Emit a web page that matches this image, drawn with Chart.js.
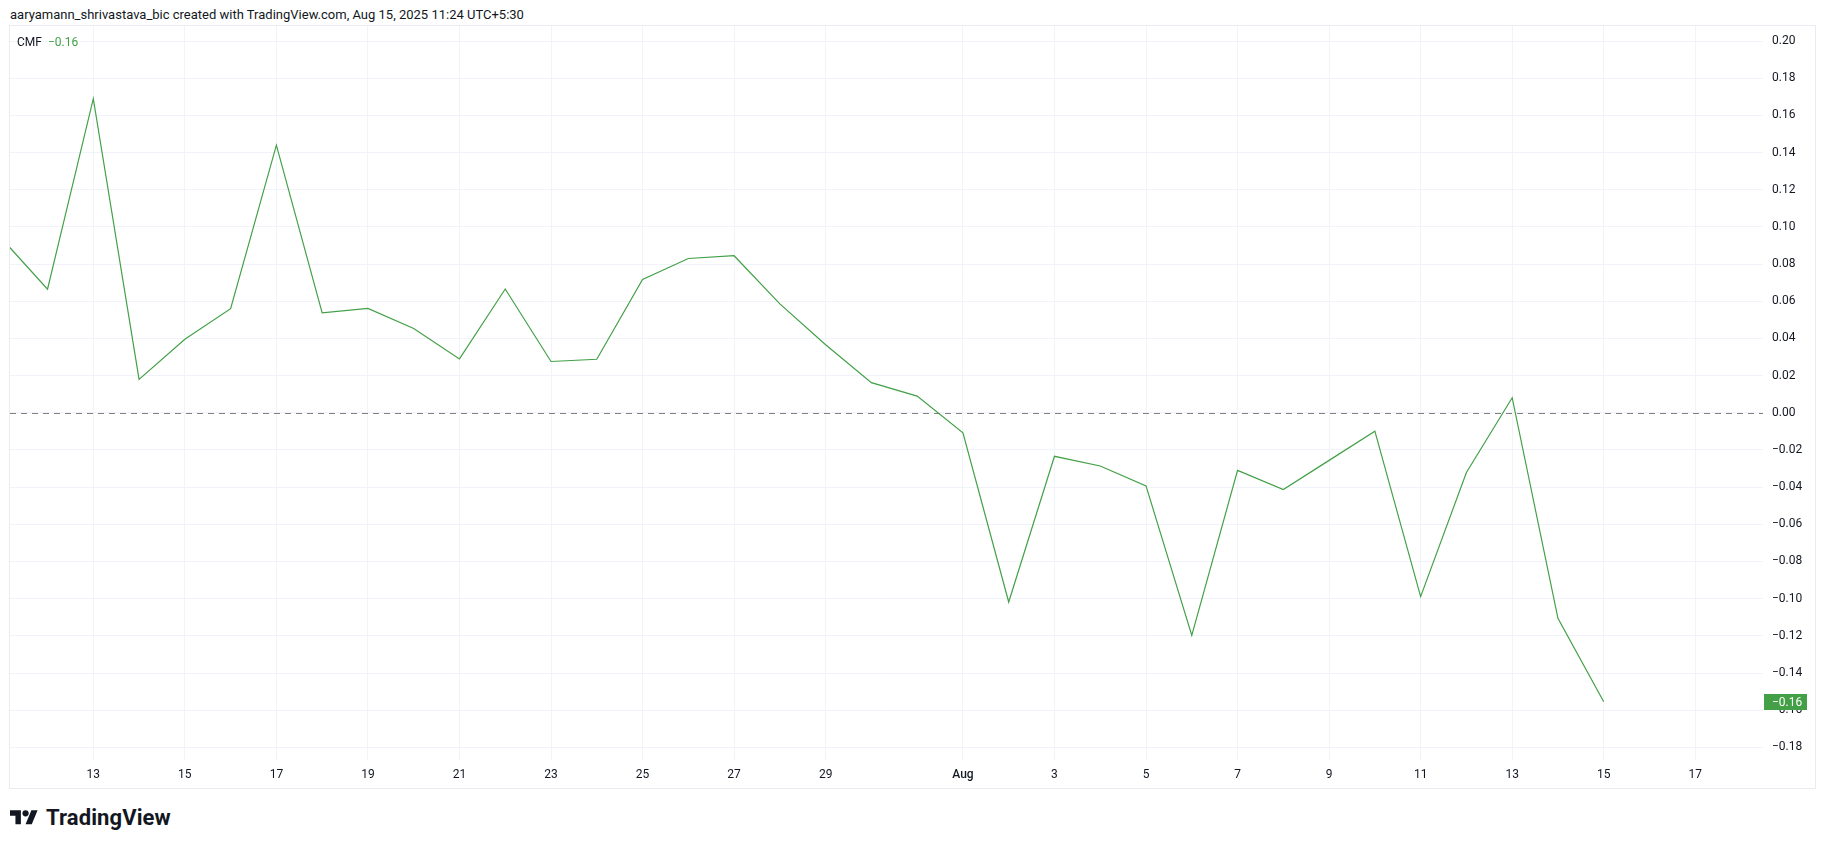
<!DOCTYPE html>
<html lang="en">
<head>
<meta charset="UTF-8">
<title>CMF</title>
<script src="https://cdn.jsdelivr.net/npm/chart.js"></script>
<style>
  body {
    margin: 0;
    width: 1825px;
    height: 849px;
    background: #fff;
    font-family: Roboto, sans-serif;
    color: #131722;
    position: relative;
    overflow: hidden;
  }
  .header {
    position: absolute;
    left: 10px;
    top: 6px;
    font-size: 13px;
    line-height: 18px;
    white-space: nowrap;
  }
  .pane {
    position: absolute;
    left: 9px;
    top: 25px;
    width: 1807px;
    height: 764px;
    border: 1px solid #e9ebf0;
    box-sizing: border-box;
  }
  #chart {
    position: absolute;
    left: 10px;
    top: 26px;
  }
  .legend {
    position: absolute;
    left: 17px;
    top: 33px;
    font-size: 12px;
    line-height: 18px;
  }
  .legend .val {
    color: #43a047;
    margin-left: 6px;
  }
  .logo {
    position: absolute;
    left: 10px;
    top: 805px;
    display: flex;
    align-items: center;
    color: #131722;
  }
  .logo span {
    font-weight: 700;
    font-size: 22px;
    margin-left: 8px;
    letter-spacing: 0.1px;
  }
</style>
</head>
<body>
  <div class="header">aaryamann_shrivastava_bic created with TradingView.com, Aug 15, 2025 11:24 UTC+5:30</div>
  <div class="pane"></div>
  <canvas id="chart" width="1805" height="762"></canvas>
  <div class="legend">CMF<span class="val" id="lastVal"></span></div>
  <div class="logo">
    <svg width="28" height="22" viewBox="0 0 36 28" fill="#131722">
      <path d="M14 22H7V11H0V4h14v18zM28 22h-8l7.5-18h8L28 22z"/>
      <circle cx="20" cy="8" r="4"/>
    </svg>
    <span>TradingView</span>
  </div>

<script>
// daily CMF values
const dates = [
  '2025-07-11', '2025-07-12', '2025-07-13', '2025-07-14', '2025-07-15', '2025-07-16',
  '2025-07-17', '2025-07-18', '2025-07-19', '2025-07-20', '2025-07-21', '2025-07-22',
  '2025-07-23', '2025-07-24', '2025-07-25', '2025-07-26', '2025-07-27', '2025-07-28',
  '2025-07-29', '2025-07-30', '2025-07-31', '2025-08-01', '2025-08-02', '2025-08-03',
  '2025-08-04', '2025-08-05', '2025-08-06', '2025-08-07', '2025-08-08', '2025-08-09',
  '2025-08-10', '2025-08-11', '2025-08-12', '2025-08-13', '2025-08-14', '2025-08-15'
];
const cmf = [
  0.0937, 0.0665, 0.1690, 0.0180, 0.0396, 0.0560,
  0.1440, 0.0538, 0.0562, 0.0454, 0.0290, 0.0666,
  0.0276, 0.0288, 0.0717, 0.0830, 0.0845, 0.0586,
  0.0366, 0.0162, 0.0090, -0.0108, -0.1018, -0.0234,
  -0.0286, -0.0393, -0.1198, -0.0310, -0.0413, -0.0256,
  -0.0099, -0.0989, -0.0321, 0.0081, -0.1106, -0.1555
];
const tickDates = [
  '2025-07-13', '2025-07-15', '2025-07-17', '2025-07-19', '2025-07-21', '2025-07-23',
  '2025-07-25', '2025-07-27', '2025-07-29', '2025-08-01', '2025-08-03', '2025-08-05',
  '2025-08-07', '2025-08-09', '2025-08-11', '2025-08-13', '2025-08-15', '2025-08-17'
];
const monthNames = ['Jan', 'Feb', 'Mar', 'Apr', 'May', 'Jun', 'Jul', 'Aug', 'Sep', 'Oct', 'Nov', 'Dec'];
const zeroLevel = 0;
// visible window (days since Jun 30) and value range
const xView = [11.18, 49.48];
const yView = [-0.1868, 0.2081];

const green = '#43a047';
const textColor = '#131722';
const gridColor = '#f0f3fa';

const origin = Date.UTC(2025, 5, 30);
function dayNum(d) {
  return (Date.parse(d) - origin) / 864e5;
}
function fmt(v) {
  const s = Math.abs(v).toFixed(2);
  return v < -0.0001 ? '\u2212' + s : s;
}

const points = dates.map((d, i) => ({ x: dayNum(d), y: cmf[i] }));
const lastValue = cmf[cmf.length - 1];
document.getElementById('lastVal').textContent = fmt(lastValue);

const overlay = {
  id: 'overlay',
  beforeDatasetsDraw(chart) {
    const ctx = chart.ctx;
    const area = chart.chartArea;
    const y = Math.round(chart.scales.y.getPixelForValue(zeroLevel)) + 0.5;
    ctx.save();
    ctx.strokeStyle = '#808080';
    ctx.lineWidth = 1;
    ctx.setLineDash([6, 5]);
    ctx.beginPath();
    ctx.moveTo(area.left, y);
    ctx.lineTo(area.right, y);
    ctx.stroke();
    ctx.restore();
  },
  afterDraw(chart) {
    const ctx = chart.ctx;
    const area = chart.chartArea;
    const y = chart.scales.y.getPixelForValue(lastValue);
    ctx.save();
    ctx.fillStyle = green;
    ctx.fillRect(area.right + 1, Math.round(y) - 8, 43, 16);
    ctx.fillStyle = '#ffffff';
    ctx.font = '12px Roboto';
    ctx.textBaseline = 'middle';
    ctx.textAlign = 'left';
    ctx.fillText(fmt(lastValue), area.right + 9, Math.round(y) + 0.5);
    ctx.restore();
  }
};

new Chart(document.getElementById('chart'), {
  type: 'line',
  data: {
    datasets: [{
      label: 'CMF',
      data: points,
      borderColor: green,
      borderWidth: 1.2,
      pointRadius: 0,
      tension: 0,
      fill: false
    }]
  },
  options: {
    responsive: false,
    animation: false,
    devicePixelRatio: 1,
    layout: { padding: 0 },
    plugins: {
      legend: { display: false },
      tooltip: { enabled: false }
    },
    scales: {
      x: {
        type: 'linear',
        min: xView[0],
        max: xView[1],
        afterBuildTicks(axis) {
          axis.ticks = tickDates.map(d => ({ value: dayNum(d) }));
        },
        afterFit(axis) {
          axis.height = 28;
          axis.paddingLeft = 0;
          axis.paddingRight = 0;
        },
        grid: { color: gridColor, drawTicks: false },
        border: { display: false },
        ticks: {
          padding: 8,
          color: textColor,
          maxRotation: 0,
          autoSkip: false,
          font: ctx => ({
            family: 'Roboto',
            size: 12,
            weight: ctx.tick && new Date(origin + ctx.tick.value * 864e5).getUTCDate() === 1 ? '500' : 'normal'
          }),
          callback(value) {
            const dt = new Date(origin + value * 864e5);
            return dt.getUTCDate() === 1 ? monthNames[dt.getUTCMonth()] : String(dt.getUTCDate());
          }
        }
      },
      y: {
        position: 'right',
        min: yView[0],
        max: yView[1],
        afterFit(axis) {
          axis.width = 52;
          axis.paddingTop = 0;
          axis.paddingBottom = 0;
        },
        grid: { color: gridColor, drawTicks: false },
        border: { display: false },
        ticks: {
          stepSize: 0.02,
          includeBounds: false,
          padding: 9,
          color: textColor,
          font: { family: 'Roboto', size: 12 },
          callback: value => fmt(value)
        }
      }
    }
  },
  plugins: [overlay]
});
</script>
</body>
</html>
